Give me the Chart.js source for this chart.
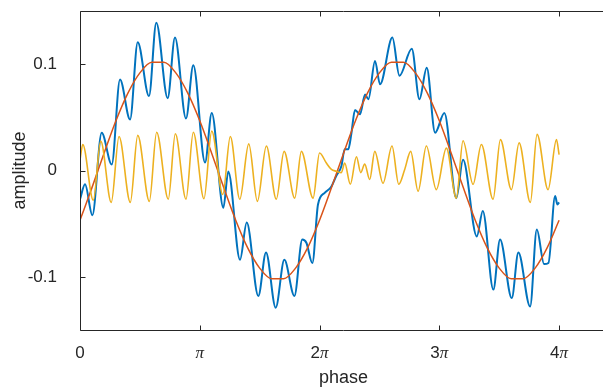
<!DOCTYPE html>
<html><head><meta charset="utf-8">
<script src="https://cdn.jsdelivr.net/npm/chart.js@4/dist/chart.umd.min.js"></script>
<style>html,body{margin:0;padding:0;background:#fff;overflow:hidden;width:603px;height:389px}canvas{display:block}</style>
</head><body>
<canvas id="c" width="610" height="389"></canvas>
<script>
// x values are in units of pi
const xTicks = [0, 1, 2, 3, 4];
const xTickNums = ['0', '', '2', '3', '4'];
const piSymbol = 'π';
const yTicks = [-0.1, 0, 0.1];
const yTickLabels = ['-0.1', '0', '0.1'];

const signalX = [0.000,0.042,0.103,0.181,0.265,0.334,0.418,0.482,0.576,0.637,0.732,0.793,0.885,0.946,1.044,1.100,1.197,1.238,1.336,1.392,1.489,1.553,1.634,1.706,1.790,1.856,1.890,1.940,1.987,2.043,2.099,2.140,2.182,2.210,2.240,2.266,2.296,2.338,2.380,2.408,2.463,2.505,2.608,2.667,2.770,2.834,2.895,2.965,3.042,3.142,3.198,3.313,3.363,3.451,3.507,3.605,3.660,3.758,3.814,3.875,3.911,3.967,3.986,4.000];
const signalY = [-0.027,-0.013,-0.042,0.0355,0.0056,0.0856,0.048,0.1207,0.070,0.139,0.068,0.125,0.049,0.099,0.0075,0.054,-0.035,-0.001,-0.084,-0.049,-0.118,-0.077,-0.129,-0.084,-0.118,-0.065,-0.068,-0.087,-0.032,-0.021,-0.015,-0.005,0.004,0.020,0.020,0.035,0.057,0.053,0.0715,0.067,0.103,0.081,0.125,0.089,0.1145,0.067,0.0966,0.0355,0.054,-0.026,0.010,-0.062,-0.038,-0.112,-0.065,-0.120,-0.077,-0.128,-0.0555,-0.088,-0.087,-0.024,-0.032,-0.030];

const fitX = [0.0,0.1,0.2,0.3,0.4,0.5,0.6,0.7,0.8,0.9,1.0,1.1,1.2,1.3,1.4,1.5,1.6,1.7,1.8,1.9,2.0,2.1,2.2,2.3,2.4,2.5,2.6,2.7,2.8,2.9,3.0,3.1,3.2,3.3,3.4,3.5,3.6,3.7,3.8,3.9,4.0];
const fitY = [-0.0468,-0.0161,0.0161,0.0468,0.0728,0.0918,0.1017,0.1017,0.0918,0.0728,0.0468,0.0161,-0.0161,-0.0468,-0.0728,-0.0918,-0.1017,-0.1017,-0.0918,-0.0728,-0.0468,-0.0161,0.0161,0.0468,0.0728,0.0918,0.1017,0.1017,0.0918,0.0728,0.0468,0.0161,-0.0161,-0.0468,-0.0728,-0.0918,-0.1017,-0.1017,-0.0918,-0.0728,-0.0468];

const residX = [0.000,0.023,0.111,0.173,0.261,0.326,0.420,0.482,0.579,0.640,0.737,0.796,0.885,0.946,1.035,1.100,1.192,1.255,1.334,1.409,1.481,1.556,1.639,1.704,1.793,1.848,1.946,2.000,2.057,2.099,2.140,2.182,2.210,2.257,2.308,2.344,2.377,2.419,2.461,2.530,2.605,2.661,2.711,2.761,2.823,2.892,2.975,3.059,3.142,3.198,3.282,3.351,3.449,3.510,3.602,3.666,3.760,3.816,3.908,3.978,4.000];
const residY = [0.010,0.0245,-0.028,0.0276,-0.030,0.032,-0.030,0.033,-0.029,0.036,-0.027,0.0345,-0.027,0.036,-0.0266,0.037,-0.0226,0.032,-0.027,0.025,-0.029,0.023,-0.027,0.018,-0.026,0.018,-0.026,0.0165,0.007,0.001,-0.0007,-0.002,0.007,-0.013,0.013,-0.002,0.006,-0.0085,0.018,-0.012,0.023,-0.013,0.001,0.018,-0.0195,0.023,-0.018,0.021,-0.026,0.028,-0.013,0.0245,-0.027,0.029,-0.018,0.026,-0.030,0.034,-0.018,0.029,0.015];

const toPts = (xs, ys) => xs.map((v, i) => ({x: v, y: ys[i]}));
const AX = '#262626';

const framePlugin = {
  id: 'frame',
  afterDraw(chart) {
    const {ctx, chartArea: a, scales: {x, y}} = chart;
    ctx.save();
    ctx.strokeStyle = AX; ctx.lineWidth = 1;
    ctx.beginPath();
    const L = Math.round(a.left) + 0.5, T = Math.round(a.top) + 0.5, B = Math.round(a.bottom) + 0.5, R = Math.round(a.right) - 0.5;
    ctx.moveTo(L, T); ctx.lineTo(R, T);
    ctx.moveTo(L, T); ctx.lineTo(L, B);
    ctx.moveTo(L, B); ctx.lineTo(R, B);
    xTicks.forEach(v => {
      const px = Math.round(x.getPixelForValue(v)) + 0.5;
      ctx.moveTo(px, B); ctx.lineTo(px, B - 5);
      ctx.moveTo(px, T); ctx.lineTo(px, T + 5);
    });
    yTicks.forEach(v => {
      const py = Math.round(y.getPixelForValue(v)) + 0.5;
      ctx.moveTo(L, py); ctx.lineTo(L + 5, py);
    });
    ctx.stroke();
    // x tick labels: numeral in sans, pi in italic serif
    ctx.fillStyle = AX;
    ctx.textBaseline = 'alphabetic';
    ctx.textAlign = 'left';
    const numFont = '17px "Liberation Sans", Arial, sans-serif';
    const piFont = 'italic 17px "Liberation Serif", "Times New Roman", serif';
    xTicks.forEach((v, i) => {
      const num = xTickNums[i];
      const hasPi = v !== 0;
      ctx.font = numFont; const w1 = ctx.measureText(num).width;
      ctx.font = piFont; const w2 = hasPi ? ctx.measureText(piSymbol).width : 0;
      const cx = x.getPixelForValue(v);
      let sx = cx - (w1 + w2) / 2;
      const by = 358;
      ctx.font = numFont; ctx.fillText(num, sx, by);
      if (hasPi) { ctx.font = piFont; ctx.fillText(piSymbol, sx + w1, by); }
    });
    ctx.restore();
  }
};

new Chart(document.getElementById('c'), {
  type: 'line',
  data: {
    datasets: [
      {label: 'residual', data: toPts(residX, residY), borderColor: '#EDB120', borderWidth: 1.6, order: 0},
      {label: 'fit', data: toPts(fitX, fitY), borderColor: '#D95319', borderWidth: 1.5, order: 1},
      {label: 'signal', data: toPts(signalX, signalY), borderColor: '#0072BD', borderWidth: 2, order: 2}
    ]
  },
  options: {
    responsive: false,
    animation: false,
    devicePixelRatio: 1,
    parsing: false,
    elements: {point: {radius: 0}, line: {cubicInterpolationMode: 'monotone', fill: false}},
    layout: {padding: {top: 11, right: 3, left: 0, bottom: 0}},
    plugins: {legend: {display: false}, tooltip: {enabled: false}},
    scales: {
      x: {
        type: 'linear', min: 0, max: 4.4,
        grid: {display: false, drawTicks: false},
        border: {display: false},
        ticks: {display: false},
        afterBuildTicks: s => { s.ticks = xTicks.map(v => ({value: v})); },
        afterFit: s => { s.height = 59; s.paddingLeft = 0; s.paddingRight = 0; },
        title: {display: true, text: 'phase', color: AX, font: {family: '"Liberation Sans", Arial, sans-serif', size: 18}, padding: {top: 0, bottom: 0}}
      },
      y: {
        type: 'linear', min: -0.15, max: 0.15,
        grid: {display: false, drawTicks: false},
        border: {display: false},
        afterBuildTicks: s => { s.ticks = yTicks.map(v => ({value: v})); },
        afterFit: s => { s.width = 80; s.paddingTop = 0; s.paddingBottom = 0; },
        ticks: {
          color: AX, padding: 23,
          font: {family: '"Liberation Sans", Arial, sans-serif', size: 17},
          callback: v => yTickLabels[yTicks.indexOf(v)]
        },
        title: {display: true, text: 'amplitude', color: AX, font: {family: '"Liberation Sans", Arial, sans-serif', size: 18}, padding: {top: 9, bottom: 0}}
      }
    }
  },
  plugins: [framePlugin]
});
</script>
</body></html>
